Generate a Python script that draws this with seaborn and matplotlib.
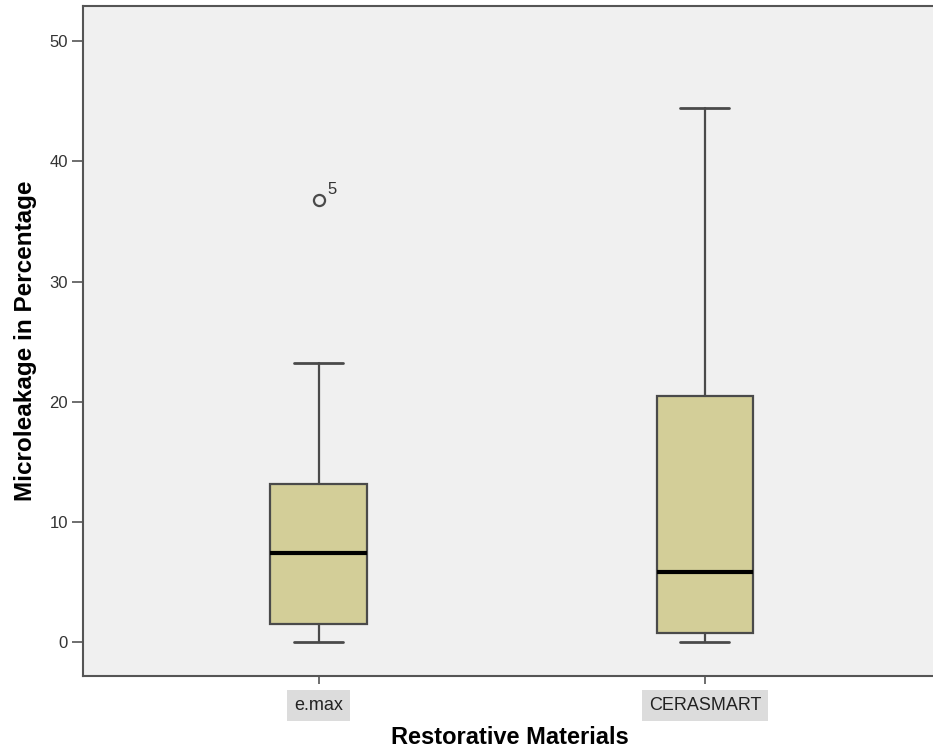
import matplotlib
matplotlib.use("Agg")
import matplotlib.pyplot as plt
import seaborn as sns

# box summary values
materials = ["e.max", "CERASMART"]
q1 = [1.5, 0.75]
medians = [7.4, 5.85]
q3 = [13.2, 20.5]
whisker_low = [0.0, 0.0]
whisker_high = [23.2, 44.4]
outliers = [[36.8], []]
outlier_ids = [["5"], []]
y_ticks = [0, 10, 20, 30, 40, 50]

sns.set_style("white")
plt.rcParams["font.family"] = ["Liberation Sans", "DejaVu Sans"]

fig = plt.figure(figsize=(9.33, 7.5), dpi=100)
ax = fig.add_axes([0.089, 0.0987, 0.915, 0.893])
ax.set_facecolor("#f0f0f0")

stats = []
for i, m in enumerate(materials):
    stats.append(dict(label=m, q1=q1[i], med=medians[i], q3=q3[i],
                      whislo=whisker_low[i], whishi=whisker_high[i],
                      fliers=outliers[i]))

edge = "#4a4a4a"
ax.bxp(stats, positions=range(len(materials)), widths=0.25,
       patch_artist=True, showfliers=True,
       boxprops=dict(facecolor="#d3ce98", edgecolor=edge, linewidth=1.6),
       medianprops=dict(color="black", linewidth=3),
       whiskerprops=dict(color=edge, linewidth=1.6),
       capprops=dict(color=edge, linewidth=2),
       capwidths=0.127,
       flierprops=dict(marker="o", markerfacecolor="none",
                       markeredgecolor=edge, markersize=8,
                       markeredgewidth=1.6))

# outlier case numbers
for i, (vals, ids) in enumerate(zip(outliers, outlier_ids)):
    for v, t in zip(vals, ids):
        ax.annotate(t, (i, v), xytext=(6, 4), textcoords="offset points",
                    fontsize=12, color="#333333")

ax.set_xlim(-0.61, 1.6)
ax.set_ylim(-2.8, 52.9)
ax.set_yticks(y_ticks)
ax.set_xticks(range(len(materials)))
ax.set_xticklabels(materials)

for s in ax.spines.values():
    s.set_color("#555555")
    s.set_linewidth(1.5)

ax.tick_params(axis="y", direction="out", length=8, width=1.2,
               color="#555555", labelsize=12, labelcolor="#333333", pad=3,
               left=True)
ax.tick_params(axis="x", direction="out", length=6, width=1.2,
               color="#555555", labelsize=13, labelcolor="#222222", pad=9,
               bottom=True)
for lbl in ax.get_xticklabels():
    lbl.set_bbox(dict(facecolor="#dcdcdc", edgecolor="none", pad=5))

ax.set_xlabel("Restorative Materials", fontsize=17, fontweight="bold",
              color="black", labelpad=9)
ax.set_ylabel("Microleakage in Percentage", fontsize=17.5, fontweight="bold",
              color="black", labelpad=9)

fig.savefig("out.png", dpi=100)
